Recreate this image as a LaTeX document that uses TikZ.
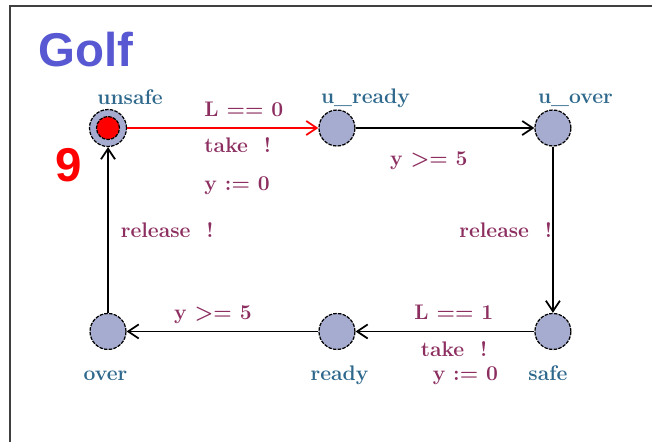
\documentclass[tikz,border=0pt]{standalone}
\usepackage{fontspec}
\usepackage{tikz}
\usetikzlibrary{arrows.meta, automata}
\newfontfamily\headfont{Liberation Sans}

\definecolor{locfill}{RGB}{166,172,208}
\definecolor{namecol}{RGB}{46,104,140}
\definecolor{guardcol}{RGB}{140,46,96}
\definecolor{headblue}{RGB}{88,88,210}

\tikzset{
  every state/.style={draw=black, fill=locfill, dash pattern=on 2pt off 0.7pt, line width=0.7pt, minimum size=0.72cm, inner sep=0pt},
  locname/.style={text=namecol, font=\bfseries\fontsize{12}{14}\selectfont, anchor=base, inner sep=0pt},
  guard/.style={text=guardcol, font=\bfseries\fontsize{12}{14}\selectfont, inner sep=0pt, align=left},
}

\begin{document}
\begin{tikzpicture}[->, >={Straight Barb[length=6pt,width=8pt]}, x=0.02cm, y=-0.02cm, line width=1pt, node distance=4.58cm]
\useasboundingbox (0,0) rectangle (652,441);
\draw[-, line width=1.1pt, black!75] (10,446) |- (656,6);

\node[anchor=base west, inner sep=0pt, text=headblue, font=\headfont\bfseries\fontsize{27}{30}\selectfont] (title) at (38,66) {Golf};
\node[anchor=base west, inner sep=0pt, text=red, font=\headfont\bfseries\fontsize{27}{30}\selectfont] (count) at (55,181) {9};

% locations
\node[state, minimum size=0.74cm] (unsafe) at (108,128) {};
\node[state, fill=red, minimum size=0.46cm] (unsafedot) at (unsafe) {};
\node[state] (uready) [right of=unsafe] {};
\node[state] (uover) [right of=uready, node distance=4.32cm] {};
\node[state] (safe) [below of=uover, node distance=4.07cm] {};
\node[state] (ready) [left of=safe, node distance=4.32cm] {};
\node[state] (over) [left of=ready] {};

% location names
\node[locname] (unsafename) at ([xshift=0.44cm, yshift=0.09cm]unsafe.north) {unsafe};
\node[locname] (readyuname) at ([xshift=0.57cm, yshift=0.11cm]uready.north) {u\_ready};
\node[locname] (overuname) at ([xshift=0.45cm, yshift=0.11cm]uover.north) {u\_over};
\node[locname] (safename) at ([xshift=-0.1cm, yshift=-0.6cm]safe.south) {safe};
\node[locname] (readyname) at ([xshift=0.05cm, yshift=-0.6cm]ready.south) {ready};
\node[locname] (overname) at ([xshift=-0.05cm, yshift=-0.6cm]over.south) {over};

% edges
\path (unsafe) edge [red] node [guard, anchor=base west, pos=.4, yshift=0.24cm] {L == 0}
  node [guard, anchor=north west, pos=.4, yshift=-0.18cm] {take \ !\\[7.5pt]y := 0} (uready);
\path (uready) edge node [guard, anchor=base, pos=.41, yshift=-0.74cm] {y >= 5} (uover);
\path (uover) edge node [guard, anchor=base east, pos=.5, yshift=-0.15cm] {release \ !} (safe);
\path (safe) edge node [guard, anchor=base, pos=.45, yshift=0.24cm] {L == 1}
  node [guard, anchor=north west, pos=.64, yshift=-0.18cm] {take \ !\\\hspace{0.24cm}y := 0} (ready);
\path (ready) edge node [guard, anchor=base, pos=.55, yshift=0.24cm] {y >= 5} (over);
\path (over) edge node [guard, anchor=base west, pos=.5, xshift=0.24cm, yshift=-0.15cm] {release \ !} (unsafe);
\end{tikzpicture}
\end{document}
